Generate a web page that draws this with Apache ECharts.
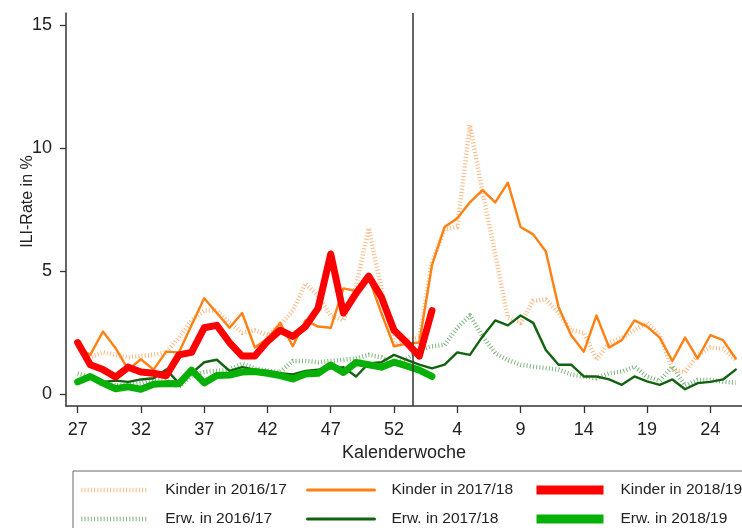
<!DOCTYPE html>
<html lang="de">
<head>
<meta charset="UTF-8">
<title>ILI-Rate</title>
<script src="https://cdn.jsdelivr.net/npm/echarts@6/dist/echarts.min.js"></script>
<style>
  html, body { margin: 0; padding: 0; background: #fff; }
  #chart { width: 742px; height: 528px; }
</style>
</head>
<body>
<div id="chart"></div>
<script>
// Kalenderwochen (Saison-Verlauf, Index 0 = KW 27)
var weeks = [27,28,29,30,31,32,33,34,35,36,37,38,39,40,41,42,43,44,45,46,47,48,49,50,51,52,53,
             1,2,3,4,5,6,7,8,9,10,11,12,13,14,15,16,17,18,19,20,21,22,23,24,25,26];
var tickIdx = [0,5,10,15,20,25,30,35,40,45,50];
var yTicks = [0,5,10,15];

var kinder1617 = [2.0,1.5,1.7,1.6,1.5,1.55,1.6,1.7,2.3,3.0,3.4,3.4,2.9,2.5,2.6,2.4,2.8,3.4,4.5,4.0,3.2,3.0,4.4,6.75,4.3,2.0,2.2,
                  2.3,5.4,6.7,6.8,10.95,8.2,5.7,3.1,2.9,3.8,3.85,3.3,2.6,2.5,1.4,2.1,2.3,2.6,2.9,2.4,1.0,0.9,1.6,1.9,1.85,1.4];
var kinder1718 = [1.9,1.6,2.55,1.87,1.0,1.42,1.0,1.73,1.7,2.8,3.9,3.3,2.7,3.3,1.9,2.25,2.9,1.95,3.0,2.75,2.7,4.3,4.2,4.75,3.3,1.95,2.05,
                  2.1,5.25,6.8,7.15,7.8,8.3,7.8,8.6,6.8,6.5,5.8,3.55,2.4,1.73,3.2,1.9,2.2,3.0,2.75,2.3,1.35,2.3,1.45,2.4,2.2,1.45];
var kinder1819 = [2.1,1.2,1.0,0.7,1.1,0.9,0.85,0.75,1.6,1.7,2.7,2.8,2.1,1.55,1.55,2.15,2.6,2.35,2.75,3.5,5.7,3.3,4.1,4.8,3.95,2.6,2.1,
                  1.55,3.4];
var erw1617 = [0.85,0.7,0.5,0.35,0.4,0.45,0.6,0.55,0.3,0.75,0.9,0.95,1.0,1.25,1.05,0.95,0.9,1.35,1.35,1.3,1.35,1.4,1.45,1.6,1.5,1.2,1.45,
               1.8,1.95,2.0,2.7,3.2,2.35,1.67,1.39,1.2,1.12,1.06,1.0,0.8,0.72,0.65,0.85,0.92,1.12,0.72,0.55,1.12,0.35,0.58,0.58,0.51,0.47];
var erw1718 = [0.55,0.65,0.5,0.55,0.5,0.6,0.65,1.0,0.45,0.85,1.3,1.4,0.95,1.1,1.0,0.95,0.85,0.8,0.95,1.0,1.05,1.1,0.72,1.25,1.3,1.6,1.4,
               1.2,1.05,1.2,1.7,1.6,2.35,3.0,2.8,3.2,2.9,1.8,1.2,1.2,0.72,0.72,0.6,0.38,0.72,0.52,0.38,0.6,0.2,0.45,0.5,0.6,1.0];
var erw1819 = [0.5,0.72,0.45,0.22,0.3,0.2,0.4,0.43,0.42,0.98,0.46,0.76,0.78,0.9,0.92,0.85,0.76,0.62,0.82,0.85,1.19,0.88,1.29,1.2,1.1,1.3,1.15,
               0.98,0.72];

var FONT = 'Liberation Sans, Arial, sans-serif';

function pts(arr) {
    return arr.map(function (v, i) { return [i, v]; });
}

function line(name, arr, color, width, dash, opacity, z) {
    return {
        name: name,
        type: 'line',
        data: pts(arr),
        symbol: 'none',
        z: z,
        lineStyle: {
            color: color,
            width: width,
            type: dash || 'solid',
            opacity: opacity,
            cap: dash ? 'butt' : 'round',
            join: 'round'
        },
        itemStyle: { color: color }
    };
}

var s1 = line('Kinder in 2016/17', kinder1617, '#fcac6e', 4.5, [1, 2.2], 0.85, 2);
var s2 = line('Erw. in 2016/17', erw1617, '#5fa35f', 4.5, [1, 2.2], 0.8, 2);
var s3 = line('Kinder in 2017/18', kinder1718, '#ff8114', 2.4, null, 1, 3);
var s4 = line('Erw. in 2017/18', erw1718, '#13620f', 2.4, null, 1, 3);
var s5 = line('Erw. in 2018/19', erw1819, '#07b007', 7, null, 1, 4);
var s6 = line('Kinder in 2018/19', kinder1819, '#ff0000', 7, null, 1, 5);

// Saisonwechsel
s3.markLine = {
    silent: true,
    symbol: ['none', 'none'],
    label: { show: false },
    lineStyle: { color: '#333', width: 1.5, type: 'solid', opacity: 1 },
    data: [{ xAxis: 26.5 }]
};

function legendCol(left, items) {
    return {
        orient: 'vertical',
        left: left,
        top: 482,
        itemWidth: 67,
        itemHeight: 14,
        itemGap: 13,
        padding: 0,
        selectedMode: false,
        itemStyle: { opacity: 0 },
        textStyle: { fontFamily: FONT, fontSize: 15.5, color: '#222', padding: [0, 0, 0, 12] },
        data: items
    };
}

var chart = echarts.init(document.getElementById('chart'));
chart.setOption({
    animation: false,
    backgroundColor: '#fff',
    grid: { left: 66, top: 13, right: 0, bottom: 122 },
    xAxis: {
        type: 'value',
        min: -0.92,
        max: 52.5,
        name: 'Kalenderwoche',
        nameLocation: 'middle',
        nameGap: 32,
        nameTextStyle: { fontFamily: FONT, fontSize: 18, color: '#222' },
        axisLine: { onZero: false, lineStyle: { color: '#333', width: 1.5 } },
        axisTick: { customValues: tickIdx, length: 7, lineStyle: { color: '#333', width: 1.3 } },
        axisLabel: {
            customValues: tickIdx,
            margin: 15,
            fontFamily: FONT, fontSize: 18, color: '#222',
            formatter: function (v) { return String(weeks[v]); }
        },
        splitLine: { show: false }
    },
    yAxis: {
        type: 'value',
        min: -0.48,
        max: 15.5,
        name: 'ILI-Rate in %',
        nameLocation: 'middle',
        nameGap: 30,
        nameMoveOverlap: false,
        nameTextStyle: { fontFamily: FONT, fontSize: 16, color: '#222', padding: [0, 0, 0, 16] },
        axisLine: { show: true, onZero: false, lineStyle: { color: '#333', width: 1.5 } },
        axisTick: { show: true, customValues: yTicks, length: 6, lineStyle: { color: '#333', width: 1.3 } },
        axisLabel: { customValues: yTicks, margin: 14, fontFamily: FONT, fontSize: 18, color: '#222' },
        splitLine: { show: false }
    },
    legend: [
        legendCol(79, [
            { name: 'Kinder in 2016/17', lineStyle: { width: 4.5, type: [1, 2.2] } },
            { name: 'Erw. in 2016/17', lineStyle: { width: 4.5, type: [1, 2.2] } }
        ]),
        legendCol(306, [
            { name: 'Kinder in 2017/18', lineStyle: { width: 3 } },
            { name: 'Erw. in 2017/18', lineStyle: { width: 3 } }
        ]),
        legendCol(532, [
            { name: 'Kinder in 2018/19', lineStyle: { width: 9, cap: 'butt' } },
            { name: 'Erw. in 2018/19', lineStyle: { width: 9, cap: 'butt' } }
        ])
    ],
    graphic: [{
        type: 'rect',
        silent: true,
        shape: { x: 73, y: 471, width: 720, height: 80 },
        style: { fill: 'none', stroke: '#666', lineWidth: 1 }
    }],
    series: [s1, s2, s3, s4, s5, s6]
});
</script>
</body>
</html>
